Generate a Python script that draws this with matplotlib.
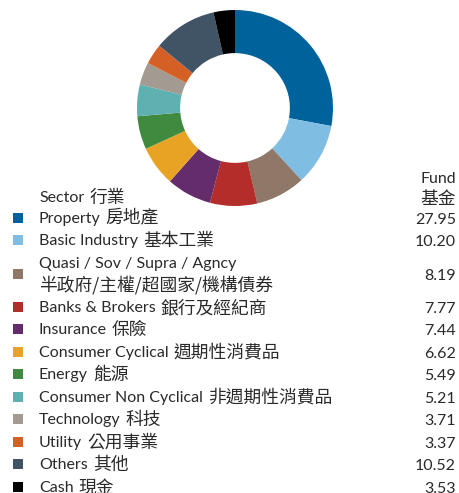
import matplotlib
matplotlib.use("Agg")
import matplotlib.pyplot as plt
from matplotlib.patches import Rectangle

plt.rcParams["font.family"] = ["Lato", "Noto Sans CJK TC", "DejaVu Sans"]
CJK = ["Noto Sans CJK TC", "DejaVu Sans"]

# Sector allocation (% of fund)
sectors_en = [
    "Property", "Basic Industry", "Quasi / Sov / Supra / Agncy",
    "Banks & Brokers", "Insurance", "Consumer Cyclical", "Energy",
    "Consumer Non Cyclical", "Technology", "Utility", "Others", "Cash",
]
sectors_zh = [
    "房地產", "基本工業", "半政府/主權/超國家/機構債券",
    "銀行及經紀商", "保險", "週期性消費品", "能源",
    "非週期性消費品", "科技", "公用事業", "其他", "現金",
]
fund_weights = [27.95, 10.20, 8.19, 7.77, 7.44, 6.62, 5.49, 5.21, 3.71, 3.37, 10.52, 3.53]
colors = [
    "#00629b", "#80bde3", "#907868", "#b32d2b", "#642c6b", "#e8a224",
    "#3f8a3f", "#5fb0b0", "#a39a92", "#d46026", "#405465", "#000000",
]
# sectors whose names wrap onto a second line
wrapped = {2}

W, H = 460, 493
fig = plt.figure(figsize=(W / 100, H / 100), dpi=100)
renderer = fig.canvas.get_renderer()

# donut
cx, cy, r = 235, 108, 98
ax = fig.add_axes([(cx - r) / W, 1 - (cy + r) / H, 2 * r / W, 2 * r / H])
ax.pie(fund_weights, colors=colors, startangle=90, counterclock=False,
       wedgeprops=dict(width=0.44, edgecolor="none"))
ax.set_xlim(-1, 1)
ax.set_ylim(-1, 1)
ax.set_aspect("equal")
ax.axis("off")

# table below the donut, in pixel coordinates
tab = fig.add_axes([0, 0, 1, 1], zorder=-1)
tab.set_xlim(0, W)
tab.set_ylim(H, 0)
tab.axis("off")

txt = "#2a2a2a"
fs_lat, fs_cjk = 11.5, 12.8


def label(x, y, en, zh):
    """Latin name followed by the Chinese name in a slightly larger face."""
    x_end = x
    if en:
        t = tab.text(x, y, en, fontsize=fs_lat, color=txt, va="center", ha="left")
        bb = t.get_window_extent(renderer)
        x_end = bb.x1 + 5
    if zh:
        tab.text(x_end, y, zh, fontsize=fs_cjk, color=txt, va="center", ha="left",
                 family=CJK)


label(39, 198, "Sector", "行業")
tab.text(456, 179, "Fund", fontsize=fs_lat, color=txt, va="center", ha="right")
tab.text(456, 199, "基金", fontsize=fs_cjk, color=txt, va="center", ha="right", family=CJK)

y = 207.5
row_h, wrap_h, line_gap = 22.5, 44, 20.5
for i, (en, zh, w, c) in enumerate(zip(sectors_en, sectors_zh, fund_weights, colors)):
    h = wrap_h if i in wrapped else row_h
    yc = y + h / 2
    tab.add_patch(Rectangle((13, yc - 6), 10, 10, facecolor=c, edgecolor="none"))
    if i in wrapped:
        label(39, yc - line_gap / 2, en, "")
        label(39, yc + line_gap / 2, "", zh)
    else:
        label(39, yc, en, zh)
    tab.text(456, yc + 1, f"{w:.2f}", fontsize=fs_lat, color=txt, va="center", ha="right")
    y += h

fig.savefig("out.png", dpi=100)
